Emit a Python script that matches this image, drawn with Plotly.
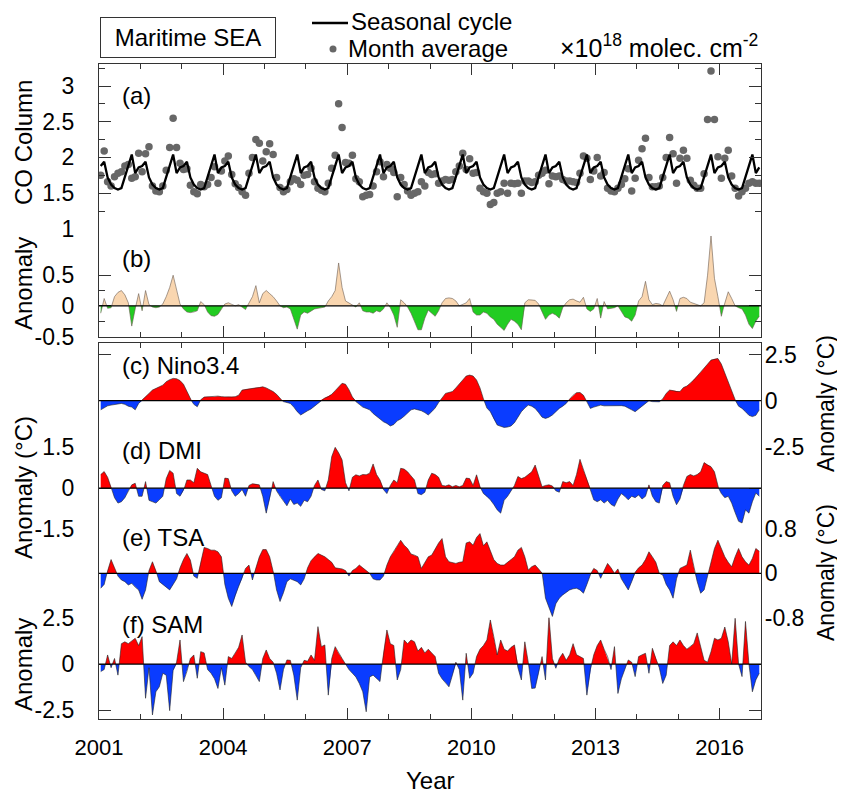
import plotly.graph_objects as go

# ---------------- data (monthly, Jan 2001 - Dec 2016) ----------------
start_year = 2001
n_months = 192

seasonal_cycle = [1.88, 1.94, 1.72, 1.62, 1.57, 1.55, 1.57, 1.72, 1.88, 2.04, 1.78, 1.86]

co_month_avg = [
    1.75, 2.09, 1.66, 1.60, 1.73, 1.78, 1.80, 1.88, 1.90, 1.71, 1.73, 2.06,  # 2001
    1.80, 2.05, 2.15, 1.60, 1.53, 1.52, 1.60, 1.82, 2.14, 2.55, 2.14, 1.92,  # 2002
    1.83, 1.84, 1.61, 1.52, 1.49, 1.62, 1.59, 1.62, 1.72, 1.87, 1.64, 1.81,  # 2003
    1.95, 2.02, 1.76, 1.63, 1.58, 1.52, 1.47, 1.78, 2.00, 2.25, 2.20, 1.95,  # 2004
    2.08, 2.19, 2.04, 1.72, 1.58, 1.52, 1.55, 1.66, 1.70, 1.68, 1.62, 1.75,  # 2005
    1.76, 1.85, 1.66, 1.57, 1.54, 1.52, 1.64, 1.85, 2.03, 2.75, 2.42, 1.93,  # 2006
    1.92, 2.03, 1.70, 1.66, 1.45, 1.47, 1.48, 1.60, 1.80, 1.94, 1.73, 1.90,  # 2007
    1.85, 1.79, 1.45, 1.72, 1.62, 1.53, 1.47, 1.50, 1.52, 1.66, 1.60, 1.79,  # 2008
    1.76, 1.77, 1.64, 1.67, 1.69, 1.68, 1.69, 1.80, 1.88, 2.06, 1.83, 1.98,  # 2009
    1.78, 1.79, 1.57, 1.52, 1.50, 1.34, 1.37, 1.50, 1.52, 1.64, 1.50, 1.64,  # 2010
    1.63, 1.64, 1.50, 1.67, 1.67, 1.65, 1.66, 1.75, 1.78, 1.82, 1.63, 1.74,  # 2011
    1.73, 1.74, 1.69, 1.67, 1.67, 1.66, 1.65, 1.78, 2.02, 1.99, 1.69, 1.81,  # 2012
    2.00, 1.74, 1.79, 1.57, 1.53, 1.52, 1.57, 1.62, 1.70, 1.84, 1.53, 1.71,  # 2013
    1.96, 2.12, 2.27, 1.72, 1.59, 1.59, 1.60, 1.72, 2.00, 2.28, 2.05, 1.64,  # 2014
    1.99, 2.10, 1.99, 1.68, 1.61, 1.57, 1.57, 1.77, 2.53, 3.21, 2.53, 2.01,  # 2015
    1.71, 1.99, 2.10, 1.74, 1.57, 1.46, 1.52, 1.57, 1.64, 1.66, 1.64, 1.64,  # 2016
]

co_anomaly = [
    -0.12, 0.12, -0.04, -0.03, 0.15, 0.22, 0.25, 0.18, 0.05, -0.33, -0.05, 0.20,
    -0.08, 0.25, 0.02, -0.02, -0.03, -0.02, 0.03, 0.15, 0.30, 0.50, 0.25, 0.03,
    -0.05, -0.10, -0.11, -0.10, -0.08, 0.07, 0.02, -0.10, -0.16, -0.17, -0.14, -0.05,
    0.03, 0.05, 0.02, 0.00, 0.02, -0.02, -0.06, 0.05, 0.15, 0.33, 0.05, 0.20,
    0.25, 0.20, 0.15, 0.08, 0.00, -0.03, -0.02, -0.05, -0.20, -0.38, -0.15, -0.10,
    -0.12, -0.08, -0.05, -0.04, -0.03, -0.02, 0.08, 0.15, 0.25, 0.70, 0.30, 0.08,
    0.05, 0.01, -0.02, 0.05, -0.08, -0.10, -0.10, -0.12, -0.08, -0.10, -0.05, 0.05,
    -0.03, -0.15, -0.35, 0.10, 0.05, -0.02, -0.12, -0.25, -0.39, -0.39, -0.20, -0.07,
    -0.12, -0.17, -0.08, 0.05, 0.12, 0.13, 0.12, 0.08, 0.00, 0.02, 0.05, 0.12,
    -0.10, -0.15, -0.15, -0.10, -0.12, -0.18, -0.22, -0.30, -0.35, -0.40, -0.30, -0.22,
    -0.25, -0.30, -0.39, 0.05, 0.10, 0.10, 0.09, 0.03, -0.10, -0.22, -0.15, -0.12,
    -0.15, -0.20, -0.03, 0.05, 0.10, 0.11, 0.08, 0.06, 0.14, -0.05, -0.09, -0.05,
    0.12, -0.20, 0.07, -0.05, -0.04, -0.03, 0.00, -0.10, -0.18, -0.20, -0.25, -0.15,
    0.08, 0.15, 0.40, 0.10, 0.02, 0.04, 0.03, 0.00, 0.12, 0.24, 0.10, -0.09,
    0.12, 0.14, 0.12, 0.06, 0.04, 0.02, 0.00, 0.05, 0.50, 1.14, 0.45, 0.15,
    -0.17, 0.05, 0.23, 0.12, 0.00, -0.03, -0.05, -0.15, -0.30, -0.37, -0.25, -0.17,
]

nino34 = [
    -0.50, -0.40, -0.28, -0.24, -0.20, -0.15, -0.15, -0.20, -0.30, -0.35, -0.50, -0.15,
    0.05, 0.20, 0.40, 0.58, 0.65, 0.76, 0.85, 1.04, 1.15, 1.22, 1.20, 1.10,
    0.90, 0.50, 0.10, -0.20, -0.33, 0.05, 0.20, 0.22, 0.20, 0.22, 0.25, 0.22,
    0.20, 0.22, 0.20, 0.22, 0.30, 0.58, 0.62, 0.65, 0.67, 0.70, 0.72, 0.76,
    0.70, 0.60, 0.50, 0.35, 0.10, -0.05, -0.10, -0.15, -0.35, -0.60, -0.78, -0.65,
    -0.55, -0.45, -0.30, -0.10, 0.05, 0.15, 0.22, 0.35, 0.55, 0.75, 0.95, 0.90,
    0.60, 0.20, -0.05, -0.20, -0.35, -0.42, -0.50, -0.70, -0.87, -1.00, -1.15, -1.24,
    -1.38, -1.30, -1.10, -1.00, -0.85, -0.70, -0.50, -0.45, -0.50, -0.55, -0.65, -0.78,
    -0.60, -0.40, -0.10, 0.15, 0.40, 0.45, 0.50, 0.70, 0.90, 1.10, 1.35, 1.40,
    1.35, 1.13, 0.70, 0.10, -0.40, -0.60, -1.00, -1.33, -1.40, -1.46, -1.44, -1.38,
    -1.20, -0.90, -0.60, -0.40, -0.24, -0.30, -0.42, -0.65, -0.90, -0.97, -0.90, -0.78,
    -0.60, -0.42, -0.30, -0.15, 0.10, 0.30, 0.44, 0.45, 0.30, -0.05, -0.42, -0.35,
    -0.30, -0.24, -0.28, -0.27, -0.28, -0.27, -0.26, -0.27, -0.30, -0.38, -0.50, -0.60,
    -0.45, -0.30, -0.15, 0.00, -0.05, -0.05, -0.06, 0.10, 0.40, 0.58, 0.55, 0.50,
    0.50, 0.72, 0.80, 0.95, 1.13, 1.35, 1.55, 1.77, 2.00, 2.22, 2.28, 2.31,
    2.00, 1.49, 1.00, 0.50, 0.04, -0.30, -0.42, -0.60, -0.80, -0.87, -0.80, -0.50,
]

dmi = [
    0.50, 0.61, 0.40, 0.05, -0.35, -0.55, -0.50, -0.35, -0.10, 0.12, 0.18, -0.30,
    -0.30, 0.24, -0.45, -0.50, -0.55, -0.43, -0.30, 0.35, 0.65, 0.55, -0.20, -0.30,
    -0.10, 0.30, 0.30, 0.20, 0.73, 0.60, 0.55, 0.50, 0.10, -0.30, -0.45, -0.35,
    0.37, 0.35, -0.10, -0.30, -0.20, -0.05, -0.30, 0.10, 0.16, 0.15, 0.12, -0.30,
    -0.92, -0.40, 0.24, -0.10, -0.30, -0.50, -0.65, -0.40, -0.60, -0.55, -0.67, -0.45,
    -0.50, -0.30, 0.10, 0.30, -0.05, -0.10, 0.30, 1.16, 1.50, 1.30, 1.04, 0.20,
    -0.10, 0.40, 0.49, 0.45, 0.50, 0.49, 0.55, 0.89, 0.50, 0.30, -0.05, -0.20,
    0.10, 0.30, 0.20, 0.73, 0.70, 0.60, 0.45, 0.30, -0.20, -0.24, -0.15, 0.30,
    0.55, 0.50, 0.40, 0.10, 0.08, 0.12, 0.05, 0.10, 0.05, 0.10, 0.37, 0.35,
    0.10, 0.49, 0.05, -0.20, -0.30, -0.43, -0.60, -0.80, -0.92, -0.45, -0.30, -0.10,
    0.10, 0.43, 0.35, 0.40, 0.50, 0.60, 0.85, 0.40, 0.05, 0.10, 0.12, 0.08,
    -0.10, -0.15, 0.24, 0.20, 0.24, 0.10, 0.50, 1.06, 0.67, 0.35, -0.05, -0.43,
    -0.50, -0.43, -0.55, -0.45, -0.60, -0.67, -0.40, -0.20, -0.30, -0.43, -0.30, -0.35,
    -0.25, -0.40, -0.30, 0.12, -0.30, -0.50, -0.55, 0.10, 0.24, 0.20, -0.30, -0.61,
    -0.40, 0.10, 0.43, 0.50, 0.45, 0.50, 0.60, 0.94, 0.85, 0.79, 0.60, 0.05,
    -0.20, -0.35, -0.30, -0.55, -0.90, -1.22, -1.28, -0.80, -0.92, -0.50, -0.18, -0.30,
]

tsa = [
    -0.27, -0.20, 0.05, 0.25, 0.10, -0.05, -0.12, -0.15, -0.21, -0.18, -0.25, -0.30,
    -0.47, -0.30, 0.05, 0.21, 0.05, -0.15, -0.20, -0.24, -0.30, -0.20, -0.10, 0.10,
    0.25, 0.36, 0.24, -0.05, -0.09, 0.20, 0.47, 0.45, 0.42, 0.42, 0.39, 0.30,
    -0.20, -0.45, -0.60, -0.40, -0.24, -0.10, 0.09, 0.15, -0.12, 0.10, 0.30, 0.43,
    0.43, 0.30, 0.05, -0.30, -0.51, -0.35, -0.15, -0.10, -0.12, -0.15, -0.21, -0.10,
    0.10, 0.23, 0.30, 0.36, 0.33, 0.30, 0.25, 0.20, 0.10, 0.09, 0.08, 0.05,
    -0.05, 0.05, 0.09, 0.15, 0.10, 0.05, 0.00, -0.10, -0.12, -0.12, -0.05, 0.15,
    0.30, 0.39, 0.50, 0.60, 0.51, 0.45, 0.35, 0.33, 0.30, 0.09, 0.20, 0.30,
    0.33, 0.45, 0.55, 0.63, 0.30, 0.21, 0.20, 0.18, 0.20, 0.21, 0.55, 0.57,
    0.51, 0.65, 0.72, 0.50, 0.57, 0.40, 0.25, 0.18, 0.15, 0.15, 0.20, 0.24,
    0.30, 0.42, 0.47, 0.30, 0.06, 0.12, 0.15, 0.08, 0.02, -0.45, -0.60, -0.78,
    -0.55, -0.45, -0.39, -0.35, -0.30, -0.28, -0.27, -0.30, -0.36, -0.20, -0.02, 0.09,
    0.05, -0.09, 0.05, 0.18, 0.10, 0.00, 0.08, -0.10, -0.20, -0.30, -0.15, 0.02,
    0.10, 0.15, 0.25, 0.39, 0.30, 0.20, 0.00, -0.03, -0.20, -0.30, -0.45, -0.10,
    0.09, 0.12, 0.15, 0.42, 0.10, -0.15, -0.36, -0.30, -0.05, 0.20, 0.45, 0.60,
    0.45, 0.30, 0.20, 0.12, 0.30, 0.45, 0.30, 0.21, 0.15, 0.27, 0.45, 0.40,
]

sam = [
    -0.41, -0.30, 0.49, -0.20, 0.30, -0.60, 1.10, 1.20, 1.10, 1.25, 1.39, 1.00,
    1.48, -1.85, -0.20, -2.75, -1.50, -1.23, -0.50, -0.60, -2.52, -0.35, 0.10, 1.30,
    -0.95, -0.40, 0.30, 0.49, -0.77, 0.67, 0.60, -0.30, -0.50, -0.80, -1.32, -0.20,
    -1.14, 0.40, 0.30, 0.58, 0.90, 1.57, 0.10, -0.14, -0.30, -0.60, -0.95, 0.30,
    0.76, 0.30, 0.10, -0.50, -1.40, -0.30, 0.22, 0.20, -0.60, -1.95, -0.20, 0.20,
    0.15, 0.49, 0.20, 2.02, 0.94, 1.03, -1.68, 0.30, 0.94, 0.58, 0.30, 0.00,
    -0.30, -0.50, -0.70, -1.05, -1.50, -2.58, -0.70, -0.60, -0.80, -0.95, 0.60, 1.84,
    1.10, 1.00, -0.86, -0.30, 1.30, 1.10, 1.30, 1.20, 0.70, 0.90, 0.60, 0.80,
    0.60, 0.40, -0.50, -0.80, -1.00, -1.23, -0.60, 0.10, -0.30, -1.95, 0.58, -0.77,
    -0.50, 0.40, 0.80, 1.00, 1.30, 2.38, 1.48, 0.49, 1.30, 0.80, 0.70, 0.90,
    1.03, -0.20, -0.86, 1.20, 0.10, -1.32, -1.30, -0.50, 0.40, -0.86, 2.56, 0.30,
    -0.23, 0.30, 0.58, 0.20, 0.50, 1.10, 0.50, 0.40, 0.30, -1.68, -0.30, 0.50,
    1.00, 1.30, 0.80, 0.40, -0.30, 0.94, -1.59, -0.80, -0.30, 0.22, 0.10, -0.68,
    0.40, 0.50, 0.58, -0.50, 0.85, 0.30, -0.20, -1.05, -0.60, 1.00, 1.20, 1.00,
    1.30, 1.00, 0.80, 0.94, 1.10, 1.68, 0.94, 0.20, 0.10, 0.67, 1.39, 1.30,
    1.39, 2.00, 1.20, 0.00, 2.47, 0.00, -0.68, 2.30, 0.00, -1.50, -0.86, -0.50,
]

year_tick_vals = [2001, 2004, 2007, 2010, 2013, 2016]
year_tick_text = ["2001", "2004", "2007", "2010", "2013", "2016"]
year_minor_vals = list(range(2001, 2017))

a_tick_vals = [1, 1.5, 2, 2.5, 3]
a_tick_text = ["1", "1.5", "2", "2.5", "3"]
b_tick_vals = [-0.5, 0, 0.5]
b_tick_text = ["-0.5", "0", "0.5"]
c_tick_vals = [-2.5, 0, 2.5]
c_tick_text = ["-2.5", "0", "2.5"]
d_tick_vals = [-1.5, 0, 1.5]
d_tick_text = ["-1.5", "0", "1.5"]
e_tick_vals = [-0.8, 0, 0.8]
e_tick_text = ["-0.8", "0", "0.8"]
f_tick_vals = [-2.5, 0, 2.5]
f_tick_text = ["-2.5", "0", "2.5"]

# ---------------- helpers ----------------
months = [start_year + (i + 0.5) / 12.0 for i in range(n_months)]
seasonal_full = seasonal_cycle * (n_months // 12)


def split_sign(xs, ys):
    X, P, N, A = [], [], [], []
    for i in range(len(xs)):
        if i > 0:
            y0, y1 = ys[i - 1], ys[i]
            if (y0 > 0 > y1) or (y0 < 0 < y1):
                t = y0 / (y0 - y1)
                xc = xs[i - 1] + t * (xs[i] - xs[i - 1])
                X.append(xc); P.append(0.0); N.append(0.0); A.append(0.0)
        X.append(xs[i]); P.append(max(ys[i], 0.0)); N.append(min(ys[i], 0.0)); A.append(ys[i])
    return X, P, N, A


FONT = "Liberation Sans, Arial, sans-serif"
AXC = "#333333"

fig = go.Figure()

# (a)
fig.add_trace(go.Scatter(x=months, y=co_month_avg, mode="markers",
                         marker=dict(color="#676767", size=7.5),
                         xaxis="x", yaxis="y", showlegend=False))
fig.add_trace(go.Scatter(x=months, y=seasonal_full, mode="lines",
                         line=dict(color="black", width=2.3),
                         xaxis="x", yaxis="y", showlegend=False))

panels = [
    ("x2", "y2", co_anomaly, "#F9D6B0", "#22CC22", "#6b5d50"),
    ("x3", "y3", nino34, "#FF0000", "#0A3CFF", "#222222"),
    ("x4", "y4", dmi, "#FF0000", "#0A3CFF", "#222222"),
    ("x5", "y5", tsa, "#FF0000", "#0A3CFF", "#222222"),
    ("x6", "y6", sam, "#FF0000", "#0A3CFF", "#222222"),
]
for xa, ya, vals, cpos, cneg, cline in panels:
    X, P, N, A = split_sign(months, vals)
    fig.add_trace(go.Scatter(x=X, y=P, mode="lines", line=dict(width=0, color=cpos),
                             fill="tozeroy", fillcolor=cpos, xaxis=xa, yaxis=ya,
                             showlegend=False))
    fig.add_trace(go.Scatter(x=X, y=N, mode="lines", line=dict(width=0, color=cneg),
                             fill="tozeroy", fillcolor=cneg, xaxis=xa, yaxis=ya,
                             showlegend=False))
    fig.add_trace(go.Scatter(x=X, y=A, mode="lines", line=dict(width=0.6, color=cline),
                             xaxis=xa, yaxis=ya, showlegend=False))

# ---------------- layout ----------------
# The page body adds an 8 px offset; the figure is sized so that the
# visible window (845 x 793) matches the reference.
OFF = 8
W, H = 845 - OFF, 793 - OFF
PLOT_L, PLOT_R, PLOT_T, PLOT_B = 99, 761, 64, 719   # window coordinates
L, T = PLOT_L - OFF, PLOT_T - OFF
R, B = W - (PLOT_R - OFF), H - (PLOT_B - OFF)
PW, PH = PLOT_R - PLOT_L, PLOT_B - PLOT_T


def py(Y):
    return (PLOT_B - Y) / PH


def px(X):
    return (X - PLOT_L) / PW


xrange_ = [2001, 2017]


def xaxis(anchor, side, labels=False, visible=True):
    d = dict(domain=[0, 1], range=xrange_, anchor=anchor, side=side,
             showgrid=False, zeroline=False, visible=visible,
             showline=True, linecolor=AXC, linewidth=1.3,
             ticks="inside", ticklen=11, tickwidth=1.2, tickcolor=AXC,
             tickmode="array", tickvals=year_tick_vals, ticktext=year_tick_text,
             showticklabels=labels,
             minor=dict(ticks="inside", ticklen=5, tickwidth=1.1, tickcolor=AXC,
                        tickmode="array", tickvals=year_minor_vals),
             tickfont=dict(family=FONT, size=22, color="black"),
             ticklabelstandoff=8)
    return d


def yaxis(domain, rng, tv, tt, side, minor_vals=None):
    d = dict(domain=domain, range=rng, anchor="x", side=side,
             showgrid=False, zeroline=False,
             showline=True, linecolor=AXC, linewidth=1.3, mirror="ticks",
             ticks="inside", ticklen=12, tickwidth=1.2, tickcolor=AXC,
             tickmode="array", tickvals=tv, ticktext=tt,
             tickfont=dict(family=FONT, size=23, color="black"),
             ticklabelstandoff=19 if side == "left" else -2)
    if minor_vals:
        d["minor"] = dict(ticks="inside", ticklen=6, tickwidth=1.1, tickcolor=AXC,
                          tickmode="array", tickvals=minor_vals)
    return d


dom_a = [py(229), 1.0]
dom_b = [py(336.7), py(229)]
dom_c = [py(447), py(342.7)]
dom_d = [py(529), py(447)]
dom_e = [py(617.7), py(529)]
dom_f = [0.0, py(617.7)]

layout = dict(
    width=W, height=H,
    margin=dict(l=L, r=R, t=T, b=B, pad=0),
    paper_bgcolor="white", plot_bgcolor="white",
    font=dict(family=FONT, size=22, color="black"),
    showlegend=False, hovermode=False,
    xaxis=xaxis("y", "top"),
    xaxis2=xaxis("y2", "bottom"),
    xaxis3=xaxis("y3", "top"),
    xaxis4=xaxis("y4", "bottom", visible=False),
    xaxis5=xaxis("y5", "bottom", visible=False),
    xaxis6=xaxis("y6", "bottom", labels=True),
    yaxis=yaxis(dom_a, [0.998, 3.308], a_tick_vals, a_tick_text, "left",
                [1.25, 1.75, 2.25, 2.75, 3.25]),
    yaxis2=yaxis(dom_b, [-0.503, 1.254], b_tick_vals, b_tick_text, "left", [-0.25, 0.25]),
    yaxis3=yaxis(dom_c, [-2.53, 3.17], c_tick_vals, c_tick_text, "right"),
    yaxis4=yaxis(dom_d, [-1.503, 1.513], d_tick_vals, d_tick_text, "left"),
    yaxis5=yaxis(dom_e, [-0.803, 0.803], e_tick_vals, e_tick_text, "right"),
    yaxis6=yaxis(dom_f, [-2.97, 2.503], f_tick_vals, f_tick_text, "left"),
)
for i in range(2, 7):
    layout["yaxis%d" % i]["anchor"] = "x%d" % i
fig.update_layout(**layout)

# zero lines
shapes = []
for ya in ["y2", "y3", "y4", "y5", "y6"]:
    shapes.append(dict(type="line", xref="paper", x0=0, x1=1, yref=ya, y0=0, y1=0,
                       line=dict(color="black", width=1.3), layer="above"))
# legend glyphs
shapes.append(dict(type="line", xref="paper", yref="paper",
                   x0=px(312), x1=px(348), y0=py(23), y1=py(23),
                   line=dict(color="black", width=2.3)))
shapes.append(dict(type="circle", xref="paper", yref="paper",
                   xsizemode="pixel", ysizemode="pixel",
                   xanchor=px(333), yanchor=py(49), x0=-3.5, x1=3.5, y0=-3.5, y1=3.5,
                   fillcolor="#676767", line=dict(width=0)))
fig.update_layout(shapes=shapes)

ann = []


def txt(text, X, Y, size=23, xanchor="center", yanchor="middle", angle=0, **kw):
    d = dict(text=text, xref="paper", yref="paper", x=px(X), y=py(Y),
             xanchor=xanchor, yanchor=yanchor, showarrow=False, textangle=angle,
             font=dict(family=FONT, size=size, color="black"))
    d.update(kw)
    ann.append(d)


txt("Maritime SEA", 188, 37.5, size=24, bordercolor="#333333", borderwidth=1,
    borderpad=6, width=162, height=27)
txt("Seasonal cycle", 349, 22, size=24, xanchor="left")
txt("Month average", 346, 48, size=24, xanchor="left")
txt("×10<sup>18</sup> molec. cm<sup>-2</sup>", 760, 46, size=25, xanchor="right")

txt("(a)", 120, 95, size=24, xanchor="left")
txt("(b)", 120, 258, size=24, xanchor="left")
txt("(c) Nino3.4", 120, 365, size=24, xanchor="left")
txt("(d) DMI", 120, 450, size=24, xanchor="left")
txt("(e) TSA", 120, 537, size=24, xanchor="left")
txt("(f) SAM", 120, 624, size=24, xanchor="left")

txt("CO Column", 23, 143, size=24, angle=-90)
txt("Anomaly", 23, 284, size=24, angle=-90)
txt("Anomaly (°C)", 23, 488, size=24, angle=-90)
txt("Anomaly", 23, 665, size=24, angle=-90)
txt("Anomaly (°C)", 826, 403, size=23, angle=-90)
txt("Anomaly (°C)", 826, 572, size=23, angle=-90)
txt("Year", 430, 780, size=24)

fig.update_layout(annotations=ann)

fig.write_html("out.html")
